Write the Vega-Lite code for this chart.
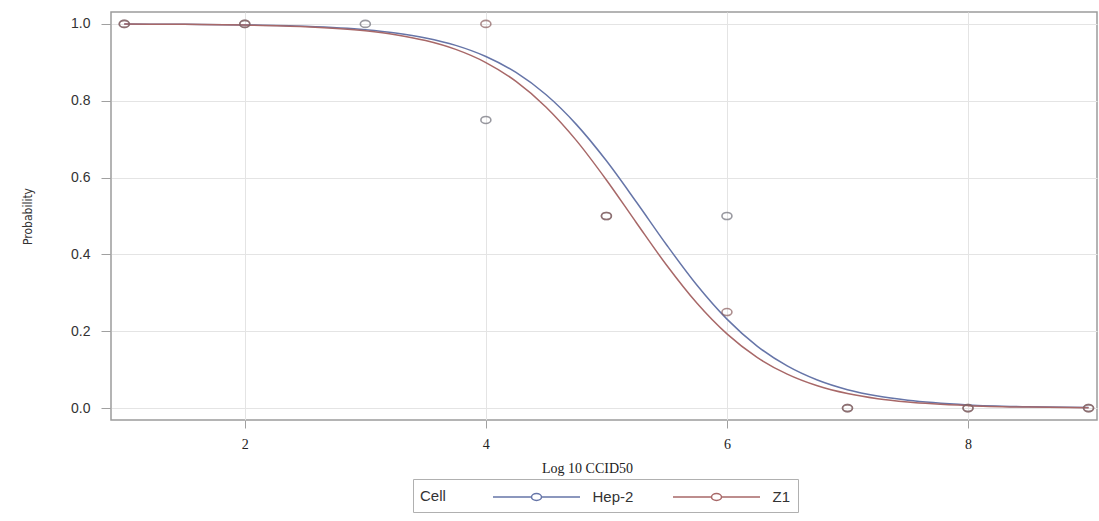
{
  "$schema": "https://vega.github.io/schema/vega-lite/v6.json",
  "width": 986,
  "height": 408,
  "autosize": "none",
  "padding": {"left": 111, "top": 12, "right": 2, "bottom": 101},
  "background": "white",
  "config": {
    "view": {"stroke": "#9c9c9c", "strokeWidth": 1.5},
    "axis": {"gridColor": "#e4e4e4", "gridWidth": 1, "domain": false, "tickColor": "#a0a0a0", "tickSize": 10}
  },
  "datasets": {
    "fit": [
      {"cell": "Hep-2", "x": 1, "p": 0.9996}, {"cell": "Hep-2", "x": 1.5, "p": 0.999}, {"cell": "Hep-2", "x": 2, "p": 0.9974},
      {"cell": "Hep-2", "x": 2.5, "p": 0.9937}, {"cell": "Hep-2", "x": 3, "p": 0.9848}, {"cell": "Hep-2", "x": 3.25, "p": 0.9764},
      {"cell": "Hep-2", "x": 3.5, "p": 0.9636}, {"cell": "Hep-2", "x": 3.75, "p": 0.9442}, {"cell": "Hep-2", "x": 4, "p": 0.9153},
      {"cell": "Hep-2", "x": 4.25, "p": 0.8736}, {"cell": "Hep-2", "x": 4.5, "p": 0.8155}, {"cell": "Hep-2", "x": 4.75, "p": 0.7385},
      {"cell": "Hep-2", "x": 5, "p": 0.6436}, {"cell": "Hep-2", "x": 5.25, "p": 0.5357}, {"cell": "Hep-2", "x": 5.5, "p": 0.4245},
      {"cell": "Hep-2", "x": 5.75, "p": 0.3204}, {"cell": "Hep-2", "x": 6, "p": 0.2316}, {"cell": "Hep-2", "x": 6.25, "p": 0.1615},
      {"cell": "Hep-2", "x": 6.5, "p": 0.1097}, {"cell": "Hep-2", "x": 6.75, "p": 0.073}, {"cell": "Hep-2", "x": 7, "p": 0.0479},
      {"cell": "Hep-2", "x": 7.25, "p": 0.0312}, {"cell": "Hep-2", "x": 7.5, "p": 0.0202}, {"cell": "Hep-2", "x": 8, "p": 0.0083},
      {"cell": "Hep-2", "x": 8.5, "p": 0.0034}, {"cell": "Hep-2", "x": 9, "p": 0.0014},
      {"cell": "Z1", "x": 1, "p": 0.9995}, {"cell": "Z1", "x": 1.5, "p": 0.9988}, {"cell": "Z1", "x": 2, "p": 0.997},
      {"cell": "Z1", "x": 2.5, "p": 0.9926}, {"cell": "Z1", "x": 3, "p": 0.982}, {"cell": "Z1", "x": 3.25, "p": 0.972},
      {"cell": "Z1", "x": 3.5, "p": 0.9567}, {"cell": "Z1", "x": 3.75, "p": 0.9336}, {"cell": "Z1", "x": 4, "p": 0.8994},
      {"cell": "Z1", "x": 4.25, "p": 0.8504}, {"cell": "Z1", "x": 4.5, "p": 0.7833}, {"cell": "Z1", "x": 4.75, "p": 0.6969},
      {"cell": "Z1", "x": 5, "p": 0.5938}, {"cell": "Z1", "x": 5.25, "p": 0.4819}, {"cell": "Z1", "x": 5.5, "p": 0.3717},
      {"cell": "Z1", "x": 5.75, "p": 0.2734}, {"cell": "Z1", "x": 6, "p": 0.1931}, {"cell": "Z1", "x": 6.25, "p": 0.1321},
      {"cell": "Z1", "x": 6.5, "p": 0.0883}, {"cell": "Z1", "x": 6.75, "p": 0.058}, {"cell": "Z1", "x": 7, "p": 0.0377},
      {"cell": "Z1", "x": 7.25, "p": 0.0243}, {"cell": "Z1", "x": 7.5, "p": 0.0156}, {"cell": "Z1", "x": 8, "p": 0.0064},
      {"cell": "Z1", "x": 8.5, "p": 0.0026}, {"cell": "Z1", "x": 9, "p": 0.001}
    ],
    "obs": [
      {"cell": "Hep-2", "x": 1, "p": 1}, {"cell": "Hep-2", "x": 2, "p": 1}, {"cell": "Hep-2", "x": 3, "p": 1},
      {"cell": "Hep-2", "x": 4, "p": 0.75}, {"cell": "Hep-2", "x": 5, "p": 0.5}, {"cell": "Hep-2", "x": 6, "p": 0.5},
      {"cell": "Hep-2", "x": 7, "p": 0}, {"cell": "Hep-2", "x": 8, "p": 0}, {"cell": "Hep-2", "x": 9, "p": 0},
      {"cell": "Z1", "x": 1, "p": 1}, {"cell": "Z1", "x": 2, "p": 1}, {"cell": "Z1", "x": 4, "p": 1},
      {"cell": "Z1", "x": 5, "p": 0.5}, {"cell": "Z1", "x": 6, "p": 0.25}, {"cell": "Z1", "x": 7, "p": 0},
      {"cell": "Z1", "x": 8, "p": 0}, {"cell": "Z1", "x": 9, "p": 0}
    ]
  },
  "encoding": {
    "x": {
      "field": "x", "type": "quantitative",
      "scale": {"domain": [0.89, 9.07], "nice": false, "zero": false},
      "axis": {
        "values": [2, 4, 6, 8], "title": "Log 10 CCID50", "tickSize": 8, "labelPadding": 9,
        "labelFont": "Liberation Serif", "labelFontSize": 14, "labelColor": "#222",
        "titleFont": "Liberation Serif", "titleFontSize": 14, "titleFontWeight": "normal", "titleColor": "#222",
        "titlePadding": 10, "titleX": 476
      }
    },
    "y": {
      "field": "p", "type": "quantitative",
      "scale": {"domain": [-0.031, 1.031], "nice": false, "zero": false},
      "axis": {
        "values": [0, 0.2, 0.4, 0.6, 0.8, 1.0], "format": ".1f", "title": "Probability",
        "labelFont": "Liberation Sans", "labelFontSize": 14, "labelColor": "#333", "labelPadding": 11,
        "titleFont": "Liberation Sans Narrow, DejaVu Sans Condensed, sans-serif", "titleFontSize": 12,
        "titleFontWeight": "normal", "titleColor": "#333", "titlePadding": 36
      }
    }
  },
  "layer": [
    {
      "data": {"name": "fit"},
      "mark": {"type": "line", "strokeWidth": 1.5, "interpolate": "monotone"},
      "encoding": {
        "color": {
          "field": "cell", "type": "nominal",
          "scale": {"domain": ["Hep-2", "Z1"], "range": ["#6675a8", "#a86868"]},
          "legend": {
            "orient": "none", "legendX": 302, "legendY": 467, "direction": "horizontal",
            "title": "Cell", "titleOrient": "left", "titleFont": "Liberation Sans", "titleFontSize": 15,
            "titleFontWeight": "normal", "titleColor": "#333", "titlePadding": 46,
            "labelFont": "Liberation Sans", "labelFontSize": 15, "labelColor": "#333",
            "symbolType": "M -4.35 0 L -0.5 0 M 0.5 0 L 4.35 0 M -0.5 0 A 0.5 0.35 0 1 0 0.5 0 A 0.5 0.35 0 1 0 -0.5 0",
            "symbolSize": 400, "symbolStrokeWidth": 1.5, "symbolFillColor": "transparent",
            "symbolOffset": 33.5, "labelOffset": 45, "columnPadding": 36,
            "strokeColor": "#b0b0b0", "fillColor": "white", "padding": 7
          }
        }
      }
    },
    {
      "data": {"name": "obs"},
      "mark": {
        "type": "point", "filled": false, "strokeWidth": 1.6, "size": 100,
        "shape": "M -1 0 A 1 0.7 0 1 0 1 0 A 1 0.7 0 1 0 -1 0 Z"
      },
      "encoding": {
        "color": {"condition": {"test": "datum.cell === 'Z1'", "value": "#8a5e5e"}, "value": "#6e6e78"}
      }
    }
  ]
}
